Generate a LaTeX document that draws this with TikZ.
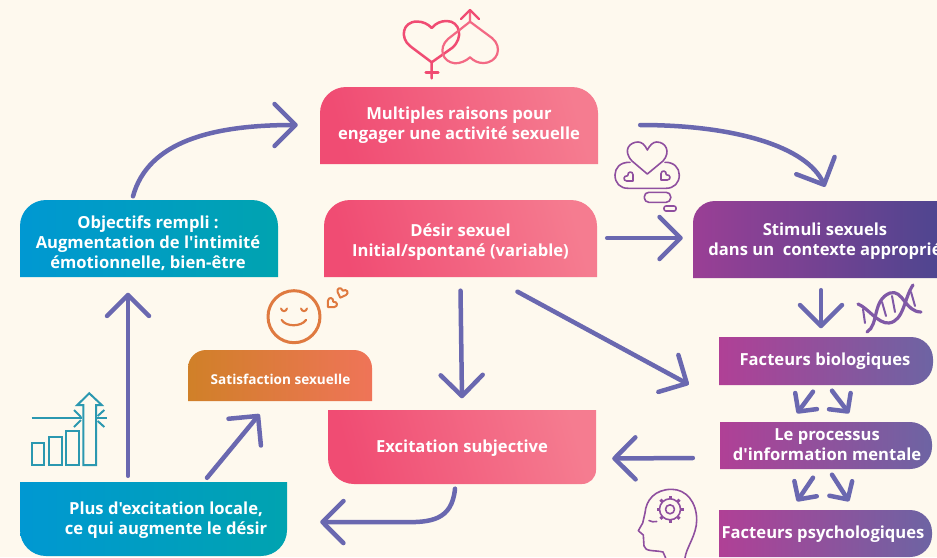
\documentclass[tikz,border=0pt]{standalone}
\usepackage{fontspec}
\newfontfamily\labelfont{Open Sans}
\usetikzlibrary{arrows.meta,calc,positioning}
\definecolor{paper}{HTML}{FEF9EE}
\definecolor{flowcol}{HTML}{6A68B0}
\definecolor{pinka}{HTML}{F04C73}
\definecolor{pinkb}{HTML}{F57C90}
\definecolor{bluea}{HTML}{0098D2}
\definecolor{blueb}{HTML}{00A3B0}
\definecolor{plumA}{HTML}{9A3F95}
\definecolor{plumB}{HTML}{48468F}
\definecolor{mauveA}{HTML}{B04096}
\definecolor{mauveB}{HTML}{6D64A3}
\definecolor{orangea}{HTML}{D08028}
\definecolor{orangeb}{HTML}{EF7458}
\definecolor{tealicon}{HTML}{2B98B0}
\definecolor{iconmauve}{HTML}{8F4F9F}
\tikzset{
  pinkbox/.style={left color=pinka,right color=pinkb,shading angle=105},
  bluebox/.style={left color=bluea,right color=blueb},
  plumbox/.style={left color=plumA,right color=plumB},
  mauvebox/.style={left color=mauveA,right color=mauveB},
  orangebox/.style={left color=orangea,right color=orangeb},
  label/.style={text=white,align=center,inner sep=0pt,font=\labelfont\bfseries\fontsize{16.6}{20}\selectfont},
  flow/.style={draw=flowcol,line width=4.5pt,line cap=round,-{Straight Barb[length=21pt,width=42pt,round]}},
  smallflow/.style={draw=flowcol,line width=4.5pt,line cap=round,-{Straight Barb[length=13pt,width=27pt,round]}},
  icon/.style={line width=2.5pt,line join=round,line cap=round},
  lovemark/.pic={\draw (0,5) -- (-4.5,0.5) .. controls (-7,-2.5) and (-3,-6) .. (0,-2.5) .. controls (3,-6) and (7,-2.5) .. (4.5,0.5) -- cycle;},
}
\begin{document}
\begin{tikzpicture}[x=1pt,y=-1pt]
  \fill[paper] (0,0) rectangle (937,557);
  \clip (0,0) rectangle (937,557);

  % coloured boxes
  \shade[pinkbox] (320,164) [rounded corners=26pt] -- (320,87) -- (598,87) [sharp corners] -- (598,164) -- cycle;
  \shade[pinkbox] (324,277) [rounded corners=26pt] -- (324,200) -- (597,200) [sharp corners] -- (597,277) -- cycle;
  \shade[bluebox] (20,277) [rounded corners=26pt] -- (20,200) -- (278,200) [sharp corners] -- (278,277) -- cycle;
  \shade[plumbox] (693,278) [rounded corners=22pt] -- (693,201) -- (960,201) [sharp corners] -- (960,278) -- cycle;
  \shade[mauvebox] (719,337) [rounded corners=22pt] -- (933,337) -- (933,385) [sharp corners] -- (719,385) -- cycle;
  \shade[mauvebox] (720,422) [rounded corners=22pt] -- (932,422) -- (932,469) [sharp corners] -- (720,469) -- cycle;
  \shade[mauvebox] (719,510) [rounded corners=22pt] -- (932,510) -- (932,557) [sharp corners] -- (719,557) -- cycle;
  \shade[orangebox] (188,401) [rounded corners=18pt] -- (188,350) -- (372,350) [sharp corners] -- (372,401) -- cycle;
  \shade[pinkbox] (328,410) [rounded corners=26pt] -- (328,484) [rounded corners=14pt] -- (596,484) [sharp corners] -- (596,410) -- cycle;
  \shade[bluebox] (20,482) [rounded corners=26pt] -- (20,556) -- (287,556) [sharp corners] -- (287,482) -- cycle;

  \node[label,minimum width=278pt,minimum height=77pt] (raisons) at (459,125) {Multiples raisons pour\\engager une activité sexuelle};
  \node[label,minimum width=273pt,minimum height=77pt] (desir) at (460.5,242) {Désir sexuel\\Initial/spontané (variable)};
  \node[label,minimum width=258pt,minimum height=77pt] (objectifs) at (148,243) {Objectifs rempli :\\Augmentation de l'intimité\\émotionnelle, bien-être};
  \node[label,minimum width=258pt,minimum height=77pt] (stimuli) at (825,241.5) {Stimuli sexuels\\dans un~ contexte approprié};
  \node[label,minimum width=214pt,minimum height=48pt] (biologiques) at (825,361.5) {Facteurs biologiques};
  \node[label,minimum width=212pt,minimum height=47pt] (processus) at (827,445) {Le processus\\d'information mentale};
  \node[label,minimum width=213pt,minimum height=47pt] (psychologiques) at (823,534) {Facteurs psychologiques};
  \node[label,font=\labelfont\bfseries\fontsize{13.6}{16}\selectfont,minimum width=184pt,minimum height=51pt] (satisfaction) at (280.5,379.5) {Satisfaction sexuelle};
  \node[label,minimum width=268pt,minimum height=74pt] (subjective) at (462,448.5) {Excitation subjective};
  \node[label,minimum width=242pt,minimum height=74pt] (locale) at (166,520) {Plus d'excitation locale,\\ce qui augmente le désir};

  % arrows
  \draw[flow] ($(objectifs.north)+(-15,-8)$) .. controls +(15,-55) and +(-85,0) .. ($(raisons.west)+(-22,0)$);
  \draw[flow] ($(raisons.east)+(42,0)$) .. controls +(95,0) and +(-18,-40) .. ($(stimuli.north)+(0,-16)$);
  \draw[flow] ($(desir.east)+(10,-4)$) -- ($(stimuli.west)+(-13,-3.5)$);
  \draw[flow] ($(stimuli.south)+(-4,10)$) -- ($(biologiques.north)+(-4,-9)$);
  \draw[flow] ($(desir.south)+(0,10)$) -- ($(subjective.north)+(0,-13)$);
  \draw[flow] ($(desir.south)+(57,11)$) -- ($(biologiques.west)+(-29,23)$);
  \draw[flow] ($(processus.west)+(-28,13)$) -- ($(subjective.east)+(16,10)$);
  \draw[flow] ($(subjective.south)+(-7,3)$) .. controls +(-3,32) and +(25,0) .. ++(-50,33.5) -- ($(locale.east)+(33,2)$);
  \draw[flow] ($(locale.north)+(41,-5)$) -- ($(satisfaction.south)+(-21,9)$);
  \draw[flow] ($(locale.north)+(-38,-7)$) -- ($(objectifs.south)+(-20,11)$);
  \draw[smallflow] ($(biologiques.south)+(-12,6)$) -- ($(processus.north)+(-30,-8)$);
  \draw[smallflow] ($(biologiques.south)+(7,5)$) -- ($(processus.north)+(22,-8)$);
  \draw[smallflow] ($(processus.south)+(-14,9)$) -- ($(psychologiques.north)+(-26,-9)$);
  \draw[smallflow] ($(processus.south)+(5,6)$) -- ($(psychologiques.north)+(26,-9)$);

  % hearts above the first box
  \draw[icon,draw=pinka] (431.7,78.3) -- (431.7,62.3) -- (410,46) .. controls (400,38) and (402,22) .. (416.7,21.5) .. controls (423,21.5) and (428,24) .. (431.7,28) .. controls (436,23) and (441,21) .. (446.7,21) .. controls (460,21) and (464,38) .. (452,48) -- (431.7,62.3);
  \draw[icon,draw=pinka] (425.7,72.3) -- (438.3,72.3);
  \draw[icon,draw=pinka!40!pinkb,line width=2.2pt] (470,10) -- (470,21.7) -- (492,38) .. controls (503,47) and (498,63) .. (483,63) .. controls (478,63) and (474,61) .. (470,57.3) .. controls (466,61) and (460,63.5) .. (455,63.3) .. controls (442,62) and (438,48) .. (448,39) -- (470,21.7);
  \draw[icon,draw=pinka,line width=2.2pt] (461,19) -- (470,10) -- (479,19);

  % thought cloud
  \begin{scope}[icon,draw=iconmauve,line width=1.6pt]
    \draw (647.3,174) -- (632,161) .. controls (622,150) and (630,142) .. (638,142) .. controls (642,142) and (645,145) .. (647.3,150) .. controls (650,145) and (653,142) .. (656.7,142) .. controls (666,142) and (671,152) .. (663,161) -- cycle;
    \draw (630,162.3) .. controls (620,162) and (615,168) .. (615,175) .. controls (615,183) and (620,188.3) .. (628,188.3) -- (666,188.3) .. controls (674,188.3) and (679.3,183) .. (679.3,175) .. controls (679.3,168) and (674,162) .. (665,162.3);
    \pic[rotate=45] at (629.5,177.5) {lovemark};
    \pic[rotate=-45] at (664.5,176.5) {lovemark};
    \draw[rounded corners=4.5pt] (644.3,192.3) rectangle (670.7,202.3);
    \draw[rounded corners=2pt] (664,206) rectangle (676,211);
  \end{scope}

  % helix
  \begin{scope}[icon,draw=iconmauve!60!flowcol,line width=3.2pt]
    \draw (858,304) .. controls (868,308) and (878,324) .. (889,323) .. controls (904,321) and (904,298) .. (913,285);
    \draw (867,332) .. controls (879,325) and (872,300) .. (890,293) .. controls (903,289) and (905,312) .. (921,312);
    \draw[line width=2pt] (863,309) -- (865,323);
    \draw[line width=2pt] (882,302) -- (886,316);
    \draw[line width=2pt] (892,296) -- (895,312);
    \draw[line width=2pt] (911,292) -- (915,306);
  \end{scope}

  % smiling face
  \begin{scope}[icon,draw=orangea!50!orangeb,line width=3pt]
    \draw (294,316.7) circle (26pt);
    \draw[line width=2pt] (281,308.5) .. controls (282,312) and (286,312) .. (287,308.5);
    \draw[line width=2pt] (301,308.5) .. controls (302,312) and (306,312) .. (307,308.5);
    \draw[line width=2.2pt] (281.7,320) .. controls (286,327) and (301,327) .. (306,320);
    \pic[rotate=-45,line width=2pt] at (331.5,303.5) {lovemark};
    \pic[rotate=-20,line width=2pt] at (342,293) {lovemark};
  \end{scope}

  % bars and arrow
  \begin{scope}[draw=tealicon,line width=2pt,line join=miter]
    \draw (31.7,443.3) rectangle (44.3,465);
    \draw (49,436.7) rectangle (61.7,465);
    \draw (65.7,430.7) rectangle (78.7,465);
    \draw (83.3,465) -- (83.3,405) -- (77.3,405) -- (89.3,393.3) -- (101.7,405) -- (96,405) -- (96,465) -- cycle;
    \draw (31.7,418.3) -- (81.7,418.3);
    \draw (74,410) -- (81,417);
    \draw (74,427) -- (81,420);
    \draw (97,418.3) -- (106.7,418.3);
    \draw (97.7,416) -- (104.3,410);
    \draw (97.7,421) -- (104.3,427);
  \end{scope}

  % head with gear
  \begin{scope}[icon,draw=iconmauve,line width=1.6pt]
    \draw (685,558) .. controls (686,548) and (696.7,535) .. (696.7,520) .. controls (696.7,502) and (686,489.3) .. (671.7,489.3) .. controls (655,489.3) and (646,500) .. (645,513) -- (642.7,523) -- (638.3,530.7) -- (643.3,535) -- (644,546) .. controls (645,552) and (655,550) .. (663,552) -- (665.7,558);
    \draw (649,520.5) .. controls (651,522) and (654,522) .. (656.7,521.5);
    \draw (670,509.3) circle (4.5pt);
    \draw (670,509.3) circle (10.5pt);
    \foreach \spoke in {0,45,...,315}{
      \draw[line width=3pt,line cap=butt] (670,509.3) ++(\spoke:10.5pt) -- ++(\spoke:3pt);
    }
  \end{scope}
\end{tikzpicture}
\end{document}
